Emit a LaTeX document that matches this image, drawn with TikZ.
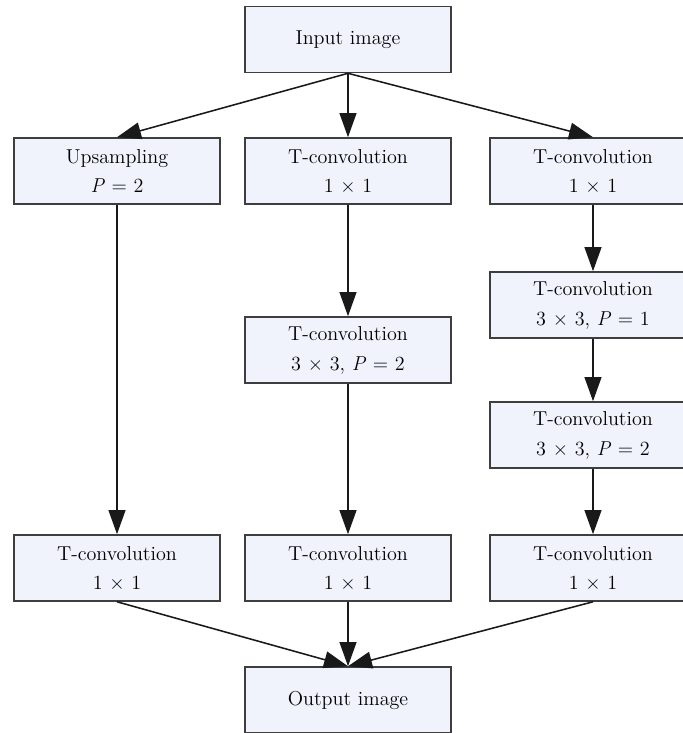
\documentclass[tikz,border=0pt]{standalone}
\usepackage{fontspec}
\usetikzlibrary{arrows.meta,positioning}
\definecolor{PaleBlue}{RGB}{240,243,252}
\definecolor{EdgeGray}{RGB}{62,62,62}
\tikzset{
  block/.style={draw=EdgeGray,fill=PaleBlue,line width=1.1pt,
    minimum width=5.15cm,minimum height=1.65cm,text width=5cm,align=center,
    inner sep=0pt,font=\fontsize{14.3}{21.3}\selectfont},
  arrow/.style={-{Triangle[length=0.6cm,width=0.42cm]},line width=1.1pt,black!90}
}

\begin{document}
\begin{tikzpicture}[x=0.025cm,y=-0.025cm]
  \path[use as bounding box,clip] (0,0) rectangle (683,733);
  % top and bottom
  \node[block] (input) at (348,39.5) {Input image};
  \node[block] (output) at (348,700) {Output image};
  % left branch
  \node[block] (up) at (117,171) {Upsampling\\ \textit{P} = 2};
  \node[block] (left) at (117,568) {T-convolution\\ 1 × 1};
  % middle branch
  \node[block] (mida) at (348,171) {T-convolution\\ 1 × 1};
  \node[block] (midb) at (348,350) {T-convolution\\ 3 × 3, \textit{P} = 2};
  \node[block] (midc) at (348,568) {T-convolution\\ 1 × 1};
  % right branch
  \node[block] (righta) at (593,171) {T-convolution\\ 1 × 1};
  \node[block] (rightb) at (593,305) {T-convolution\\ 3 × 3, \textit{P} = 1};
  \node[block] (rightc) at (593,435) {T-convolution\\ 3 × 3, \textit{P} = 2};
  \node[block] (rightd) at (593,568) {T-convolution\\ 1 × 1};
  % connectors
  \draw[arrow] (input.south) -- (up.north);
  \draw[arrow] (input.south) -- (mida.north);
  \draw[arrow] (input.south) -- (righta.north);
  \draw[arrow] (up) -- (left);
  \draw[arrow] (mida) -- (midb);
  \draw[arrow] (midb) -- (midc);
  \draw[arrow] (righta) -- (rightb);
  \draw[arrow] (rightb) -- (rightc);
  \draw[arrow] (rightc) -- (rightd);
  \draw[arrow] (left.south) -- (output.north);
  \draw[arrow] (midc.south) -- (output.north);
  \draw[arrow] (rightd.south) -- (output.north);
\end{tikzpicture}
\end{document}
